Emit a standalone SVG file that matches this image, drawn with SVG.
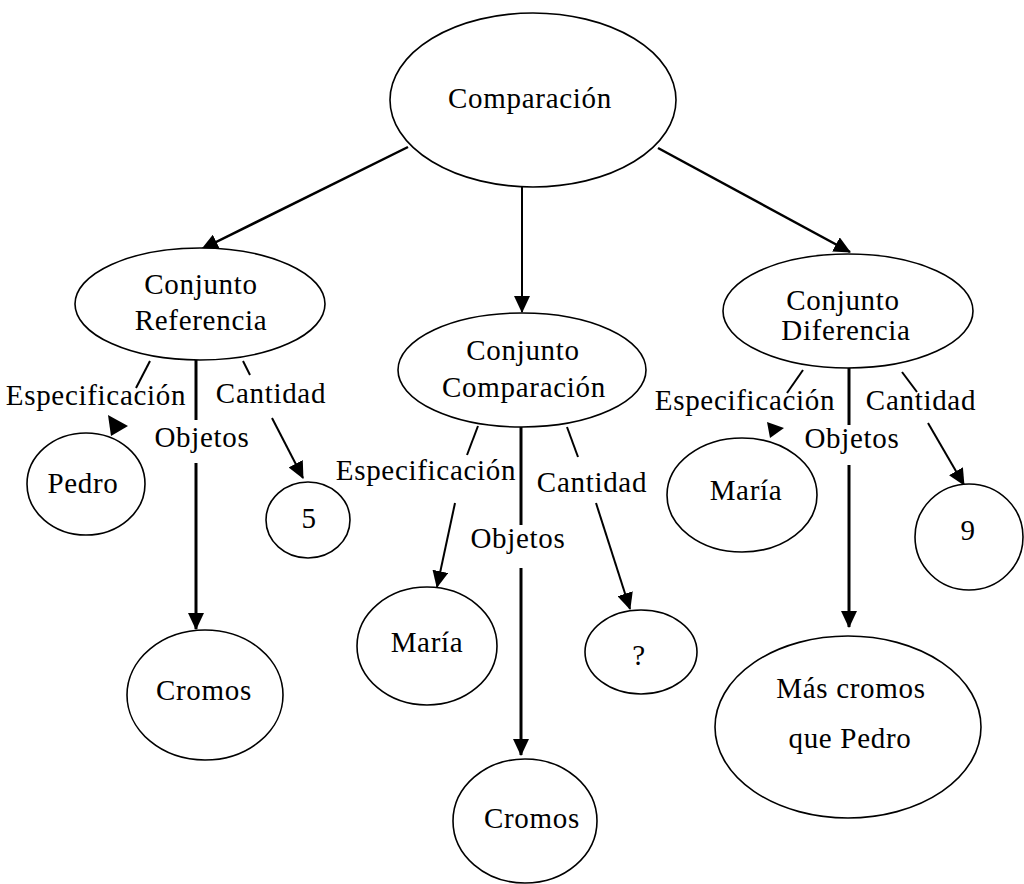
<svg xmlns="http://www.w3.org/2000/svg" width="1024" height="884" viewBox="0 0 1024 884">
<style>
.n ellipse{fill:#fff;stroke:#000;stroke-width:1.6}
text{font-family:'Liberation Serif','DejaVu Serif','Noto Serif',serif;font-size:29px;letter-spacing:0.7px;fill:#000;text-anchor:middle}
.c line{stroke:#000;fill:none}
.t{stroke-width:2.5}
.o{stroke-width:3}
.s{stroke-width:2}
</style>
<defs>
<marker id="ah" markerUnits="userSpaceOnUse" markerWidth="18" markerHeight="16" refX="16" refY="8" orient="auto">
<path d="M0,0 L17,8 L0,16 Z" fill="#000"/>
</marker>
</defs>
<rect width="1024" height="884" fill="#fff"/>
<g class="c" id="connectors">
<line class="t" x1="408" y1="147" x2="202" y2="249" marker-end="url(#ah)"/>
<line class="s" x1="522" y1="187" x2="522" y2="312" marker-end="url(#ah)"/>
<line class="t" x1="658" y1="148" x2="850" y2="252" marker-end="url(#ah)"/>
<line class="s" x1="150" y1="361" x2="136" y2="388"/>
<polygon points="108,415 128,426 111,436" fill="#000"/>
<line class="o" x1="196" y1="360" x2="196" y2="420"/>
<line class="o" x1="196" y1="463" x2="196" y2="629" marker-end="url(#ah)"/>
<line class="s" x1="243" y1="361" x2="250" y2="375"/>
<line class="s" x1="272" y1="418" x2="303" y2="478" marker-end="url(#ah)"/>
<line class="s" x1="478" y1="426" x2="467" y2="455"/>
<line class="s" x1="455" y1="503" x2="437" y2="587" marker-end="url(#ah)"/>
<line class="o" x1="521" y1="427" x2="521" y2="525"/>
<line class="o" x1="521" y1="568" x2="521" y2="755" marker-end="url(#ah)"/>
<line class="s" x1="567" y1="427" x2="578" y2="457"/>
<line class="s" x1="596" y1="503" x2="630" y2="609" marker-end="url(#ah)"/>
<line class="s" x1="803" y1="370" x2="787" y2="393"/>
<polygon points="767,422 784,428 770,438" fill="#000"/>
<line class="o" x1="849" y1="368" x2="849" y2="425"/>
<line class="o" x1="849" y1="465" x2="849" y2="627" marker-end="url(#ah)"/>
<line class="s" x1="902" y1="372" x2="917" y2="392"/>
<line class="s" x1="928" y1="423" x2="964" y2="485" marker-end="url(#ah)"/>
</g>
<g class="n" id="comparacion"><ellipse cx="533" cy="100" rx="143" ry="87"/><text x="530" y="108">Comparación</text></g>
<g class="n" id="conjunto-referencia"><ellipse cx="200" cy="304" rx="125" ry="56"/><text x="201" y="294">Conjunto</text><text x="201" y="330">Referencia</text></g>
<g class="n" id="conjunto-comparacion"><ellipse cx="522" cy="370" rx="124" ry="57"/><text x="523" y="360">Conjunto</text><text x="524" y="397">Comparación</text></g>
<g class="n" id="conjunto-diferencia"><ellipse cx="848" cy="311" rx="125" ry="57"/><text x="843" y="310">Conjunto</text><text x="846" y="340">Diferencia</text></g>
<g id="labels">
<text x="96" y="405">Especificación</text>
<text x="271" y="403">Cantidad</text>
<text x="202" y="447">Objetos</text>
<text x="426" y="480">Especificación</text>
<text x="592" y="492">Cantidad</text>
<text x="518" y="548">Objetos</text>
<text x="745" y="410">Especificación</text>
<text x="921" y="410">Cantidad</text>
<text x="852" y="448">Objetos</text>
</g>
<g class="n" id="pedro"><ellipse cx="86" cy="484" rx="59" ry="51"/><text x="83" y="493">Pedro</text></g>
<g class="n" id="cinco"><ellipse cx="308" cy="520" rx="42" ry="38"/><text x="309" y="528">5</text></g>
<g class="n" id="cromos-1"><ellipse cx="205" cy="695" rx="78" ry="65"/><text x="204" y="700">Cromos</text></g>
<g class="n" id="maria-1"><ellipse cx="427" cy="646" rx="70" ry="59"/><text x="427" y="652">María</text></g>
<g class="n" id="interrogacion"><ellipse cx="641" cy="652" rx="56" ry="42"/><text x="639" y="665">?</text></g>
<g class="n" id="cromos-2"><ellipse cx="525" cy="821" rx="72" ry="62"/><text x="532" y="828">Cromos</text></g>
<g class="n" id="maria-2"><ellipse cx="742" cy="495" rx="75" ry="57"/><text x="746" y="500">María</text></g>
<g class="n" id="nueve"><ellipse cx="969" cy="537" rx="54" ry="53"/><text x="968" y="540">9</text></g>
<g class="n" id="mas-cromos"><ellipse cx="848" cy="727" rx="133" ry="91"/><text x="851" y="698">Más cromos</text><text x="850" y="748">que Pedro</text></g>
</svg>
